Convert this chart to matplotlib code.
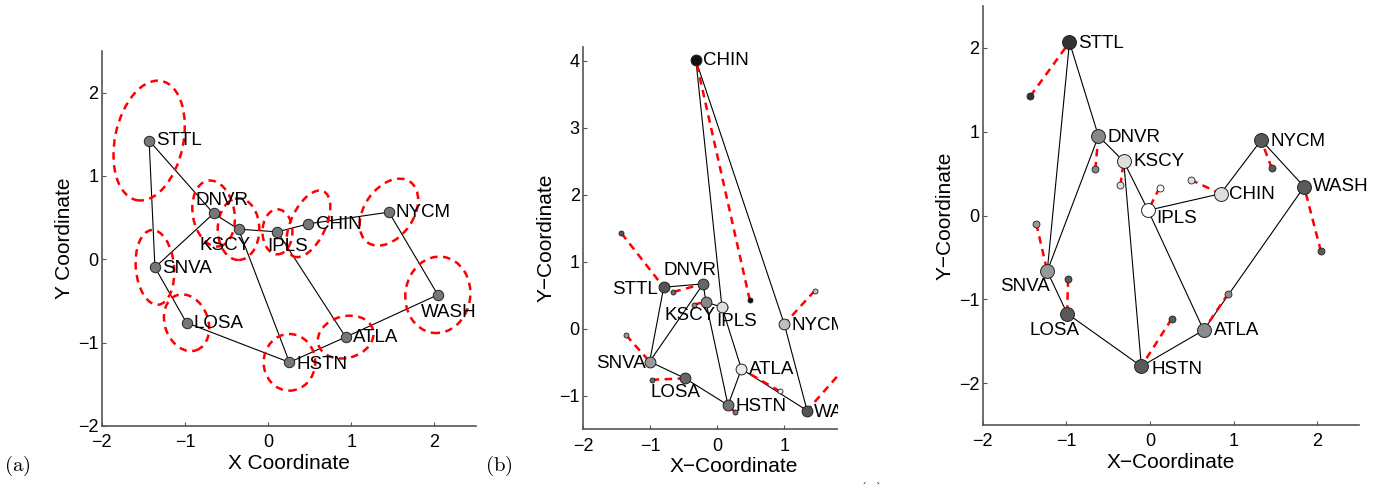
import numpy as np
import matplotlib
matplotlib.use('Agg')
import matplotlib.pyplot as plt
from matplotlib.patches import Ellipse, Rectangle

plt.rcParams['font.family'] = ['Liberation Sans', 'DejaVu Sans']
plt.rcParams['mathtext.fontset'] = 'cm'

# ---------------- data ----------------
nodes = ['STTL', 'SNVA', 'LOSA', 'DNVR', 'KSCY', 'HSTN', 'IPLS', 'CHIN', 'ATLA', 'NYCM', 'WASH']
edges = [('STTL', 'SNVA'), ('STTL', 'DNVR'), ('SNVA', 'DNVR'), ('SNVA', 'LOSA'),
         ('LOSA', 'HSTN'), ('DNVR', 'KSCY'), ('KSCY', 'IPLS'), ('KSCY', 'HSTN'),
         ('IPLS', 'CHIN'), ('IPLS', 'ATLA'), ('HSTN', 'ATLA'), ('ATLA', 'WASH'),
         ('CHIN', 'NYCM'), ('NYCM', 'WASH')]

# (a) true coordinates
true_x = [-1.43, -1.36, -0.98, -0.655, -0.355, 0.257, 0.113, 0.485, 0.933, 1.453, 2.041]
true_y = [1.425, -0.097, -0.761, 0.55, 0.362, -1.236, 0.33, 0.426, -0.933, 0.566, -0.426]
# (a) uncertainty ellipses (full width, full height, angle in deg)
ell_w = [0.82, 0.46, 0.52, 0.50, 0.50, 0.62, 0.36, 0.42, 0.68, 0.59, 0.78]
ell_h = [1.46, 0.90, 0.70, 0.80, 0.74, 0.68, 0.54, 0.86, 0.50, 0.89, 0.92]
ell_ang = [-12, 5, 20, 10, 0, 0, 0, -25, 15, -35, -8]

# (b) estimated coordinates and shading
b_x = [-0.80, -1.01, -0.48, -0.21, -0.17, 0.16, 0.07, -0.32, 0.36, 1.00, 1.34]
b_y = [0.62, -0.49, -0.74, 0.67, 0.40, -1.14, 0.32, 4.01, -0.60, 0.07, -1.22]
b_gray = [0.33, 0.60, 0.40, 0.40, 0.53, 0.45, 0.87, 0.07, 0.92, 0.75, 0.33]

# (c) estimated coordinates and shading
c_x = [-0.963, -1.229, -0.991, -0.617, -0.315, -0.104, -0.024, 0.843, 0.640, 1.328, 1.841]
c_y = [2.068, -0.665, -1.170, 0.948, 0.646, -1.800, 0.062, 0.260, -1.368, 0.900, 0.343]
c_gray = [0.20, 0.60, 0.35, 0.53, 0.87, 0.35, 1.00, 0.87, 0.55, 0.35, 0.35]

a_ticks_x = [-2, -1, 0, 1, 2]
a_ticks_y = [-2, -1, 0, 1, 2]
b_ticks_x = [-2, -1, 0, 1]
b_ticks_y = [-1, 0, 1, 2, 3, 4]
c_ticks_x = [-2, -1, 0, 1, 2]
c_ticks_y = [-2, -1, 0, 1, 2]

# label placement (pixel offsets, horizontal alignment)
a_lab = {'STTL': (7, 0, 'left'), 'SNVA': (7, -1, 'left'), 'LOSA': (7, -1, 'left'),
         'DNVR': (8, 13, 'center'), 'KSCY': (-13, -16, 'center'), 'HSTN': (7, -2, 'left'),
         'IPLS': (10, -15, 'center'), 'CHIN': (8, -1, 'left'), 'ATLA': (7, 0, 'left'),
         'NYCM': (7, 0, 'left'), 'WASH': (11, -18, 'center')}
b_lab = {'STTL': (-6, -2, 'right'), 'SNVA': (-4, -2, 'right'), 'LOSA': (-10, -14, 'center'),
         'DNVR': (-13, 13, 'center'), 'KSCY': (-16, -14, 'center'), 'HSTN': (7, -1, 'left'),
         'IPLS': (15, -14, 'center'), 'CHIN': (7, 0, 'left'), 'ATLA': (8, -1, 'left'),
         'NYCM': (7, -1, 'left'), 'WASH': (7, -2, 'left')}
c_lab = {'STTL': (9, -1, 'left'), 'SNVA': (3, -15, 'right'), 'LOSA': (12, -17, 'right'),
         'DNVR': (9, -1, 'left'), 'KSCY': (10, 0, 'left'), 'HSTN': (10, -3, 'left'),
         'IPLS': (8, -8, 'left'), 'CHIN': (8, -1, 'left'), 'ATLA': (10, 0, 'left'),
         'NYCM': (9, -1, 'left'), 'WASH': (9, 0, 'left')}

W, H = 1394, 484
fig = plt.figure(figsize=(W / 100, H / 100), dpi=100)


def px_axes(l, r, t, b):
    return fig.add_axes([l / W, (H - b) / H, (r - l) / W, (b - t) / H])


def style(ax, xl, yl, xt, yt, xlab, ylab):
    ax.set_xlim(*xl)
    ax.set_ylim(*yl)
    ax.set_xticks(xt)
    ax.set_yticks(yt)
    for s in ['top', 'right']:
        ax.spines[s].set_visible(False)
    for s in ['left', 'bottom']:
        ax.spines[s].set_color('#555555')
        ax.spines[s].set_linewidth(1.2)
    ax.tick_params(direction='in', length=3, width=0.8, color='#555555',
                   labelsize=13)
    ax.tick_params(axis='x', pad=6)
    ax.tick_params(axis='y', pad=2.5)
    ax.set_xlabel(xlab, fontsize=15, labelpad=2)
    ax.set_ylabel(ylab, fontsize=15, labelpad=3)


idx = {n: i for i, n in enumerate(nodes)}


def draw_edges(ax, xs, ys):
    for u, v in edges:
        ax.plot([xs[idx[u]], xs[idx[v]]], [ys[idx[u]], ys[idx[v]]],
                color='black', lw=0.8, zorder=2)


def draw_labels(ax, xs, ys, lab, clip=False):
    for i, n in enumerate(nodes):
        dx, dy, ha = lab[n]
        t = ax.annotate(n, (xs[i], ys[i]), xytext=(dx, dy), textcoords='offset pixels',
                        ha=ha, va='center', fontsize=13.5, zorder=6,
                        annotation_clip=False)
        t.set_clip_on(clip)


# ---------------- (a) ----------------
axa = px_axes(101.7, 476.0, 51.0, 426.0)
style(axa, (-2, 2.5), (-2, 2.5), a_ticks_x, a_ticks_y, 'X Coordinate', 'Y Coordinate')
draw_edges(axa, true_x, true_y)
for i in range(len(nodes)):
    e = Ellipse((true_x[i], true_y[i]), ell_w[i], ell_h[i], angle=ell_ang[i],
                fill=False, edgecolor='red', lw=1.8, linestyle=(0, (3, 2.2)), zorder=3)
    axa.add_patch(e)
axa.plot(true_x, true_y, 'o', ms=7.5, mfc='#777777', mec='#222222', mew=0.7,
         ls='none', zorder=4)
draw_labels(axa, true_x, true_y, a_lab)


def est_panel(ax, ex, ey, gray, big, small):
    draw_edges(ax, ex, ey)
    for i in range(len(nodes)):
        ax.plot([true_x[i], ex[i]], [true_y[i], ey[i]], color='red', lw=1.8,
                linestyle=(0, (3, 2.2)), zorder=3)
    for i in range(len(nodes)):
        g = str(gray[i])
        ax.plot(true_x[i], true_y[i], 'o', ms=small, mfc=g, mec='#222222', mew=0.6,
                zorder=4)
        ax.plot(ex[i], ey[i], 'o', ms=big, mfc=g, mec='#222222', mew=0.7, zorder=5)


# ---------------- (b) ----------------
axb = px_axes(583.3, 884.8, 47.3, 429.3)
style(axb, (-2, 2.5), (-1.5, 4.2), b_ticks_x, b_ticks_y, 'X\u2212Coordinate', 'Y\u2212Coordinate')
est_panel(axb, b_x, b_y, b_gray, 7.8, 3.6)
draw_labels(axb, b_x, b_y, b_lab, clip=True)

# white strip cropping the right part of panel (b)
rect = Rectangle((838 / W, 0), (935 - 838) / W, 1, transform=fig.transFigure,
                 facecolor='white', edgecolor='none', zorder=1)
fig.add_artist(rect)

# ---------------- (c) ----------------
axc = px_axes(982.7, 1359.3, 6.0, 425.0)
axc.set_zorder(2)
style(axc, (-2, 2.5), (-2.5, 2.5), c_ticks_x, c_ticks_y, 'X\u2212Coordinate', 'Y\u2212Coordinate')
est_panel(axc, c_x, c_y, c_gray, 10.0, 5.0)
draw_labels(axc, c_x, c_y, c_lab)

# panel letters
fig.text(17 / W, (H - 466) / H, r'$\mathrm{(a)}$', fontsize=15, ha='center', va='center')
fig.text(499 / W, (H - 466) / H, r'$\mathrm{(b)}$', fontsize=15, ha='center', va='center')
fig.text(871 / W, (H - 492) / H, r'$\mathrm{(c)}$', fontsize=15, ha='center', va='center',
         zorder=3)

fig.savefig('out.png', dpi=100)
